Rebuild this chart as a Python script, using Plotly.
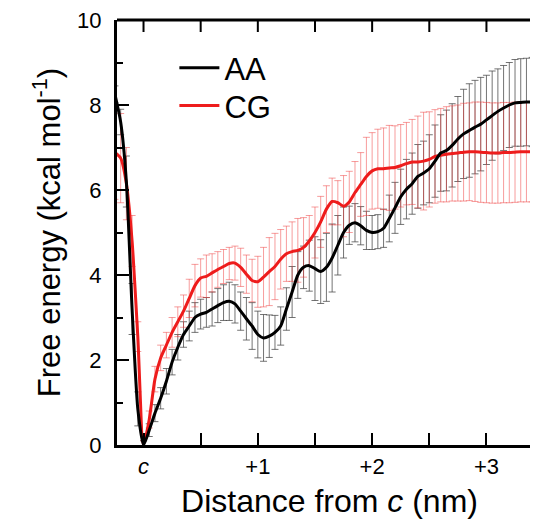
import plotly.graph_objects as go

# Distance from c (nm)
distance_nm = [-0.25, -0.2, -0.15, -0.1, -0.05, 0.0, 0.05, 0.1, 0.15, 0.2, 0.25, 0.3, 0.35, 0.4, 0.45,
               0.5, 0.55, 0.6, 0.65, 0.7, 0.75, 0.8, 0.85, 0.9, 0.95, 1.0, 1.05, 1.1, 1.15, 1.2,
               1.25, 1.3, 1.35, 1.4, 1.45, 1.5, 1.55, 1.6, 1.65, 1.7, 1.75, 1.8, 1.85, 1.9, 1.95,
               2.0, 2.05, 2.1, 2.15, 2.2, 2.25, 2.3, 2.35, 2.4, 2.45, 2.5, 2.55, 2.6, 2.65, 2.7,
               2.75, 2.8, 2.85, 2.9, 2.95, 3.0, 3.05, 3.1, 3.15, 3.2, 3.25, 3.3, 3.35, 3.4, 3.45]

aa_free = [8.25, 7.6, 6.2, 3.2, 0.85, 0.0, 0.35, 0.75, 1.1, 1.5, 1.95, 2.3, 2.6, 2.8, 3.0,
           3.08, 3.12, 3.2, 3.28, 3.35, 3.38, 3.32, 3.15, 2.97, 2.8, 2.6, 2.52, 2.56, 2.65, 2.8,
           3.2, 3.6, 4.0, 4.18, 4.22, 4.15, 4.08, 4.18, 4.4, 4.7, 5.0, 5.17, 5.23, 5.16, 5.05,
           5.0, 5.02, 5.1, 5.33, 5.58, 5.84, 6.02, 6.15, 6.32, 6.4, 6.5, 6.68, 6.87, 6.93, 7.05,
           7.2, 7.32, 7.4, 7.48, 7.55, 7.65, 7.75, 7.85, 7.93, 8.0, 8.05, 8.06, 8.07, 8.07, 8.08]

aa_err = [0.2, 0.3, 0.6, 0.6, 0.4, 0.1, 0.15, 0.2, 0.25, 0.3, 0.3, 0.3, 0.3, 0.35, 0.35,
          0.35, 0.35, 0.4, 0.4, 0.42, 0.45, 0.45, 0.45, 0.5, 0.55, 0.55, 0.55, 0.5, 0.4, 0.45,
          0.5, 0.6, 0.55, 0.5, 0.6, 0.75, 0.75, 0.8, 0.8, 0.7, 0.6, 0.45, 0.45, 0.45, 0.45,
          0.4, 0.4, 0.45, 0.55, 0.6, 0.65, 0.7, 0.72, 0.75, 0.75, 0.8, 0.85, 0.9, 0.95, 0.98,
          1.0, 1.05, 1.1, 1.1, 1.1, 1.05, 1.05, 1.0, 1.0, 1.0, 1.02, 1.03, 1.03, 1.05, 1.05]

cg_free = [6.88, 6.75, 6.15, 4.8, 2.55, 0.0, 0.6, 1.55, 2.05, 2.35, 2.65, 2.9, 3.15, 3.45, 3.75,
           3.93, 3.97, 4.05, 4.13, 4.2, 4.27, 4.28, 4.18, 4.02, 3.87, 3.84, 3.95, 4.08, 4.2, 4.37,
           4.5, 4.55, 4.58, 4.65, 4.8, 5.0, 5.25, 5.55, 5.73, 5.7, 5.62, 5.72, 5.94, 6.13, 6.32,
           6.45, 6.5, 6.5, 6.52, 6.53, 6.57, 6.62, 6.66, 6.66, 6.68, 6.72, 6.79, 6.82, 6.84, 6.86,
           6.87, 6.89, 6.9, 6.9, 6.89, 6.88, 6.87, 6.87, 6.88, 6.88, 6.89, 6.9, 6.9, 6.9, 6.9]

cg_err = [1.1, 1.05, 0.85, 0.6, 0.35, 0.1, 0.2, 0.3, 0.3, 0.3, 0.35, 0.35, 0.38, 0.45, 0.5,
          0.45, 0.5, 0.45, 0.42, 0.4, 0.38, 0.4, 0.45, 0.45, 0.5, 0.6, 0.7, 0.8, 0.78, 0.7,
          0.65, 0.7, 0.75, 0.7, 0.6, 0.6, 0.6, 0.55, 0.55, 0.52, 0.72, 0.72, 0.73, 0.75, 0.92,
          0.9, 0.93, 0.96, 1.0, 0.98, 0.97, 0.97, 1.0, 1.08, 1.15, 1.12, 1.1, 1.1, 1.12, 1.12,
          1.13, 1.15, 1.15, 1.17, 1.18, 1.18, 1.18, 1.18, 1.18, 1.18, 1.18, 1.18, 1.18, 1.18, 1.18]

x_tickvals = [0, 1, 2, 3]
x_ticktext = ["<i>c</i>", "+1", "+2", "+3"]
x_minor_ticks = [0.5, 1.5, 2.5]
y_major_ticks = [2, 4, 6, 8]
y_minor_ticks = [1, 3, 5, 7, 9]

X_RANGE = [-0.232, 3.486]
Y_RANGE = [0, 10]
FONT = "Arial, 'Liberation Sans', sans-serif"

PLOT_W = 425.0   # plot area size in px (used to convert tick lengths to paper units)
PLOT_H = 425.0


def x_to_paper(v):
    return (v - X_RANGE[0]) / (X_RANGE[1] - X_RANGE[0])


def y_to_paper(v):
    return (v - Y_RANGE[0]) / (Y_RANGE[1] - Y_RANGE[0])


fig = go.Figure()

# error bars (drawn first, below the lines)
fig.add_trace(go.Scatter(
    x=distance_nm, y=aa_free, mode="markers", marker=dict(size=0.1, color="rgba(0,0,0,0)"),
    error_y=dict(type="data", array=aa_err, visible=True, color="rgba(70,70,70,0.75)",
                 thickness=1, width=3.5),
    showlegend=False, hoverinfo="skip"))
fig.add_trace(go.Scatter(
    x=distance_nm, y=cg_free, mode="markers", marker=dict(size=0.1, color="rgba(0,0,0,0)"),
    error_y=dict(type="data", array=cg_err, visible=True, color="rgba(240,60,60,0.5)",
                 thickness=1, width=3.5),
    showlegend=False, hoverinfo="skip"))

fig.add_trace(go.Scatter(
    x=distance_nm, y=cg_free, mode="lines", name="CG", legend="legend2",
    line=dict(color="#ee1c1c", width=3, shape="spline", smoothing=0.6)))
fig.add_trace(go.Scatter(
    x=distance_nm, y=aa_free, mode="lines", name="AA", legend="legend",
    line=dict(color="#000000", width=3, shape="spline", smoothing=0.6)))

legend_style = dict(xanchor="left", yanchor="middle", bgcolor="rgba(0,0,0,0)",
                    font=dict(size=31, family=FONT), itemwidth=40)

# frame: top line with its inward ticks, inward ticks on the right side
fig.add_shape(type="line", xref="paper", yref="paper", x0=0, x1=1, y0=1, y1=1,
              line=dict(color="black", width=3), layer="above")
for xv in x_tickvals + x_minor_ticks:
    xp = x_to_paper(xv)
    fig.add_shape(type="line", xref="paper", yref="paper", x0=xp, x1=xp, y0=1, y1=1 - 12 / PLOT_H,
                  line=dict(color="black", width=2), layer="above")
for yv in y_major_ticks:
    yp = y_to_paper(yv)
    fig.add_shape(type="line", xref="paper", yref="paper", x0=1, x1=1 - 12 / PLOT_W, y0=yp, y1=yp,
                  line=dict(color="black", width=2), layer="above")
for yv in y_minor_ticks:
    yp = y_to_paper(yv)
    fig.add_shape(type="line", xref="paper", yref="paper", x0=1, x1=1 - 6 / PLOT_W, y0=yp, y1=yp,
                  line=dict(color="black", width=2), layer="above")

# the page body adds an 8px offset; the plot's right frame lies just past the window edge
fig.update_layout(
    template="none",
    width=534, height=517,
    margin=dict(l=109, r=0, t=12, b=80, autoexpand=False),
    paper_bgcolor="white", plot_bgcolor="white",
    font=dict(family=FONT, color="black"),
    showlegend=True,
    legend=dict(x=0.135, y=0.887, **legend_style),
    legend2=dict(x=0.135, y=0.798, **legend_style),
    xaxis=dict(range=X_RANGE, tickmode="array", tickvals=x_tickvals, ticktext=x_ticktext,
               ticks="inside", ticklen=12, tickwidth=2, tickcolor="black",
               minor=dict(ticks="inside", ticklen=12, tickwidth=2, tickmode="array",
                          tickvals=x_minor_ticks, tickcolor="black"),
               showline=True, linewidth=3, linecolor="black",
               showgrid=False, zeroline=False, automargin=False,
               tickfont=dict(size=22, family=FONT),
               title=dict(text="Distance from <i>c</i> (nm)", font=dict(size=32, family=FONT),
                          standoff=12)),
    yaxis=dict(range=Y_RANGE, tick0=0, dtick=2,
               ticks="inside", ticklen=12, tickwidth=2, tickcolor="black",
               minor=dict(ticks="inside", ticklen=6, tickwidth=2, dtick=1, tickcolor="black"),
               showline=True, linewidth=3, linecolor="black",
               showgrid=False, zeroline=False, ticklabeloverflow="allow", automargin=False,
               tickfont=dict(size=22, family=FONT), ticklabelstandoff=8,
               title=dict(text="Free energy (kcal mol<sup>-1</sup>)", font=dict(size=31, family=FONT),
                          standoff=8)),
)

fig.write_html("out.html")
